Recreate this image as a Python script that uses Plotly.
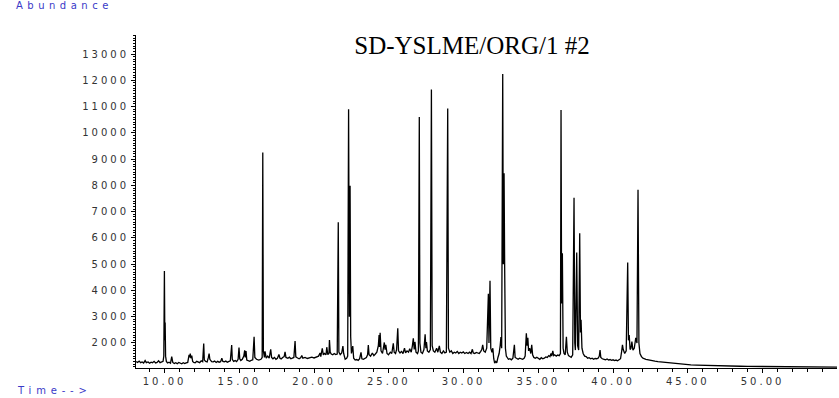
import plotly.graph_objects as go

# Total ion chromatogram: retention time (min) and abundance
rt_min = [
    8.10, 8.20, 8.30, 8.40, 8.50, 8.60, 8.70, 8.78, 8.90, 9.00, 9.10, 9.20, 9.30, 9.40, 9.50, 9.60, 9.70, 9.80, 9.90,
    9.95, 9.99, 10.02, 10.04, 10.07, 10.12, 10.20, 10.30, 10.40, 10.48, 10.55, 10.65, 10.75, 10.85, 10.95,
    11.05, 11.15, 11.25, 11.35, 11.45, 11.55, 11.64, 11.68, 11.72, 11.76, 11.82, 11.88, 11.95,
    12.05, 12.15, 12.25, 12.35, 12.45, 12.55, 12.62, 12.66, 12.75, 12.85, 12.93, 12.98,
    13.03, 13.15, 13.25, 13.35, 13.45, 13.55, 13.65, 13.75, 13.83, 13.90,
    14.00, 14.10, 14.20, 14.30, 14.40, 14.49, 14.53, 14.62, 14.72, 14.82, 14.92, 14.98,
    15.03, 15.10, 15.20, 15.30, 15.36, 15.40, 15.45, 15.50, 15.60, 15.70, 15.80, 15.90, 15.99,
    16.04, 16.15, 16.30, 16.45, 16.53, 16.57, 16.61, 16.68, 16.72, 16.80, 16.90,
    17.00, 17.10, 17.16, 17.25, 17.35, 17.45, 17.55, 17.65, 17.72, 17.80, 17.90,
    18.00, 18.06, 18.12, 18.25, 18.35, 18.45, 18.55, 18.65, 18.73, 18.78, 18.90,
    19.00, 19.10, 19.18, 19.25, 19.40, 19.55, 19.70, 19.85,
    20.00, 20.15, 20.30, 20.40, 20.45, 20.55, 20.62, 20.70, 20.80, 20.85, 20.92,
    21.00, 21.03, 21.08, 21.15, 21.25, 21.35, 21.45, 21.55, 21.62, 21.66, 21.75, 21.85, 21.93, 21.98,
    22.08, 22.18, 22.25, 22.31, 22.36, 22.41, 22.45, 22.50, 22.59, 22.65, 22.75, 22.85, 22.95,
    23.05, 23.14, 23.20, 23.30, 23.40, 23.50, 23.58, 23.63, 23.68, 23.78, 23.90,
    24.00, 24.10, 24.20, 24.30, 24.35, 24.38, 24.42, 24.48, 24.58, 24.70, 24.75, 24.80, 24.88, 24.98,
    25.10, 25.20, 25.30, 25.36, 25.45, 25.52, 25.60, 25.65, 25.75, 25.85, 25.95,
    26.05, 26.12, 26.22, 26.32, 26.40, 26.50, 26.58, 26.64, 26.70, 26.75, 26.82, 26.92, 26.98,
    27.04, 27.08, 27.15, 27.25, 27.35, 27.43, 27.48, 27.52, 27.58, 27.68, 27.78, 27.85, 27.90, 27.98,
    28.08, 28.20, 28.28, 28.38, 28.45, 28.55, 28.65, 28.75, 28.85, 28.94, 28.99,
    29.08, 29.18, 29.28, 29.38, 29.48, 29.58, 29.68, 29.78, 29.88, 29.98,
    30.08, 30.20, 30.30, 30.40, 30.50, 30.59, 30.65, 30.75, 30.85, 30.95,
    31.05, 31.15, 31.22, 31.28, 31.35, 31.45, 31.55, 31.66, 31.70, 31.77, 31.82, 31.90, 31.96,
    32.02, 32.08, 32.15, 32.22, 32.30, 32.38, 32.45, 32.50, 32.55, 32.62, 32.66, 32.71, 32.75, 32.80, 32.86, 32.92,
    33.00, 33.10, 33.20, 33.30, 33.40, 33.45, 33.55, 33.65, 33.75, 33.85, 33.95,
    34.05, 34.12, 34.20, 34.25, 34.30, 34.35, 34.42, 34.50, 34.56, 34.62, 34.70, 34.80, 34.90,
    35.00, 35.10, 35.20, 35.30, 35.40, 35.50, 35.60, 35.70, 35.78, 35.85, 35.90, 35.97,
    36.03, 36.10, 36.20, 36.30, 36.40, 36.48, 36.52, 36.56, 36.61, 36.66, 36.72, 36.80, 36.88, 36.94,
    37.02, 37.10, 37.20, 37.30, 37.39, 37.44, 37.48, 37.57, 37.63, 37.70, 37.77, 37.82, 37.86, 37.92,
    38.00, 38.10, 38.20, 38.30, 38.40, 38.50, 38.60, 38.70, 38.80, 38.90,
    39.00, 39.08, 39.13, 39.18, 39.28, 39.40, 39.50, 39.60, 39.70, 39.80, 39.90,
    40.00, 40.10, 40.20, 40.30, 40.40, 40.50, 40.58, 40.63, 40.68, 40.78, 40.88, 40.98,
    41.03, 41.08, 41.14, 41.20, 41.26, 41.33, 41.42, 41.52, 41.60, 41.67, 41.73, 41.80, 41.90,
    42.00, 42.20, 42.40, 42.60, 42.80, 43.00, 43.30, 43.60, 43.90, 44.20, 44.50, 44.80,
    45.20, 45.60, 46.00, 46.50, 47.00, 47.50, 48.00, 48.50, 49.00, 49.50,
    50.00, 51.00, 52.00, 53.00, 54.00, 55.00,
]

abundance = [
    1290, 1260, 1310, 1250, 1280, 1240, 1330, 1250, 1280, 1230, 1270, 1250, 1300, 1240, 1260, 1320, 1250, 1280, 1300,
    1500, 4740, 2100, 2780, 1500, 1300, 1240, 1270, 1230, 1480, 1260, 1220, 1250, 1210, 1260,
    1230, 1210, 1250, 1220, 1240, 1260, 1550, 1450, 1600, 1420, 1520, 1300, 1260,
    1250, 1300, 1270, 1250, 1320, 1290, 1980, 1350, 1300, 1280, 1450, 1600,
    1380, 1290, 1280, 1310, 1260, 1300, 1270, 1290, 1420, 1300,
    1280, 1310, 1270, 1300, 1320, 1920, 1380, 1300, 1330, 1290, 1380, 1830,
    1400, 1330, 1380, 1500, 1720, 1450, 1690, 1350, 1320, 1300, 1340, 1360, 2240,
    1450, 1380, 1350, 1380, 1450, 9250, 1700, 1450, 1680, 1420, 1500,
    1420, 1760, 1450, 1400, 1450, 1380, 1420, 1560, 1420, 1390, 1450,
    1480, 1660, 1450, 1420, 1460, 1400, 1430, 1450, 2070, 1470, 1430,
    1400, 1440, 1520, 1420, 1450, 1410, 1440, 1460,
    1430, 1470, 1500, 1620, 1480, 1800, 1550, 1600, 1550, 1840, 1560,
    1600, 2110, 1650, 1580, 1550, 1600, 1560, 1580, 6600, 1650, 1560, 1620, 1880, 1600,
    1380, 1420, 1500, 10900, 3000, 7990, 2240, 1600, 1880, 1420, 1350, 1370, 1340,
    1400, 1640, 1400, 1380, 1420, 1450, 1550, 1920, 1550, 1500, 1620,
    1520, 1580, 1650, 1900, 2300, 1850, 2390, 1700, 1600, 2020, 1750, 1930, 1600, 1550,
    1650, 1600, 1990, 1650, 1600, 1750, 2560, 1700, 1620, 1680, 1600,
    1800, 1620, 1700, 1650, 1780, 1650, 1900, 2180, 1750, 2040, 1650, 1600, 1700,
    10600, 2000, 1650, 1600, 1750, 2330, 1800, 2040, 1700, 1650, 1750, 11650, 1900, 1700,
    1650, 1800, 1650, 1890, 1650, 1600, 1700, 1620, 1650, 10930, 1800,
    1650, 1700, 1600, 1650, 1620, 1680, 1600, 1650, 1620, 1660,
    1600, 1640, 1600, 1650, 1600, 1760, 1620, 1600, 1640, 1620,
    1600, 1680, 1750, 1930, 1700, 1650, 1800, 3870, 2000, 4370, 1800, 1650, 1800,
    1400, 1230, 1300, 1240, 1450, 1600, 1900, 2230, 1800, 12240, 5000, 8460, 4900, 1800, 1500, 1450,
    1380, 1400, 1360, 1420, 1930, 1450, 1400, 1380, 1420, 1400, 1380,
    1420, 1500, 2370, 1900, 2200, 1700, 1800, 1600, 1930, 1550, 1450, 1420, 1460,
    1400, 1380, 1440, 1400, 1420, 1470, 1450, 1520, 1480, 1600, 1500, 1700,
    1520, 1550, 1500, 1540, 1520, 1600, 10870, 3500, 5420, 1800, 1600, 1550, 2240, 1650,
    1520, 1480, 1450, 1550, 7530, 2000, 1730, 5440, 1900, 1730, 6180, 2400, 2880, 1800,
    1600, 1500, 1480, 1420, 1440, 1400, 1420, 1380, 1410, 1400,
    1420, 1500, 1730, 1450, 1400, 1380, 1360, 1390, 1350, 1370, 1340,
    1360, 1330, 1350, 1320, 1360, 1400, 1700, 1930, 1750, 1600, 1700, 5060,
    2100, 2300, 1750, 1800, 2050, 1730, 1800, 2200, 2000, 7830, 2000, 1600, 1480,
    1420, 1380, 1350, 1330, 1310, 1290, 1270, 1250, 1230, 1210, 1200, 1185,
    1170, 1160, 1150, 1140, 1130, 1125, 1120, 1115, 1110, 1105,
    1100, 1095, 1090, 1085, 1080, 1078,
]

x_ticks = [10, 15, 20, 25, 30, 35, 40, 45, 50, 55]
x_labels = ["10.00", "15.00", "20.00", "25.00", "30.00", "35.00", "40.00", "45.00", "50.00", ""]
y_ticks = [2000, 3000, 4000, 5000, 6000, 7000, 8000, 9000, 10000, 11000, 12000, 13000]
y_labels = ["2000", "3000", "4000", "5000", "6000", "7000", "8000", "9000", "10000", "11000", "12000", "13000"]

title_text = "SD-YSLME/ORG/1 #2"


def spaced(s, px):
    return '<span style="letter-spacing:%spx">%s</span>' % (px, s) if s else ""


tick_font = dict(family="DejaVu Sans", size=10, color="#333333")
label_blue = "#3a3ac8"

fig = go.Figure()
fig.add_trace(go.Scatter(
    x=rt_min, y=abundance, mode="lines",
    line=dict(color="black", width=1.3),
    hoverinfo="x+y", showlegend=False,
))

fig.update_layout(
    width=839, height=398, autosize=False,
    margin=dict(l=136, r=2, t=35, b=30, pad=0),
    plot_bgcolor="white", paper_bgcolor="white",
    title=dict(
        text=title_text, x=472 / 839, xanchor="center", y=1 - 45 / 398, yanchor="middle",
        font=dict(family="Liberation Serif", size=25, color="black"),
    ),
    xaxis=dict(
        range=[8.09, 54.98], showgrid=False, zeroline=False,
        showline=True, linecolor="black", linewidth=1,
        tickmode="array", tickvals=x_ticks,
        ticktext=[spaced(s, 3) for s in x_labels],
        ticks="outside", ticklen=4, tickwidth=1, tickcolor="black",
        tickfont=tick_font,
        minor=dict(tickmode="linear", tick0=0, dtick=1, ticks="outside",
                   ticklen=3, tickwidth=1, tickcolor="black", showgrid=False),
    ),
    yaxis=dict(
        range=[1048, 13724], showgrid=False, zeroline=False,
        showline=True, linecolor="black", linewidth=1,
        tickmode="array", tickvals=y_ticks,
        ticktext=[spaced(s, 3) for s in y_labels],
        ticks="outside", ticklen=4, tickwidth=1, tickcolor="black",
        tickfont=tick_font,
        minor=dict(tickmode="linear", tick0=0, dtick=100, ticks="outside",
                   ticklen=2, tickwidth=1, tickcolor="black", showgrid=False),
    ),
    annotations=[
        dict(text=spaced("Abundance", 4.5), xref="paper", yref="paper",
             x=(14 - 136) / 701, y=(368 - 5) / 333, xanchor="left", yanchor="middle",
             showarrow=False, font=dict(family="DejaVu Sans", size=10, color=label_blue)),
        dict(text=spaced("Time--&gt;", 4.8), xref="paper", yref="paper",
             x=(15 - 136) / 701, y=(368 - 390) / 333, xanchor="left", yanchor="middle",
             showarrow=False, font=dict(family="DejaVu Sans", size=10, color=label_blue)),
    ],
)

fig.write_html("out.html")
